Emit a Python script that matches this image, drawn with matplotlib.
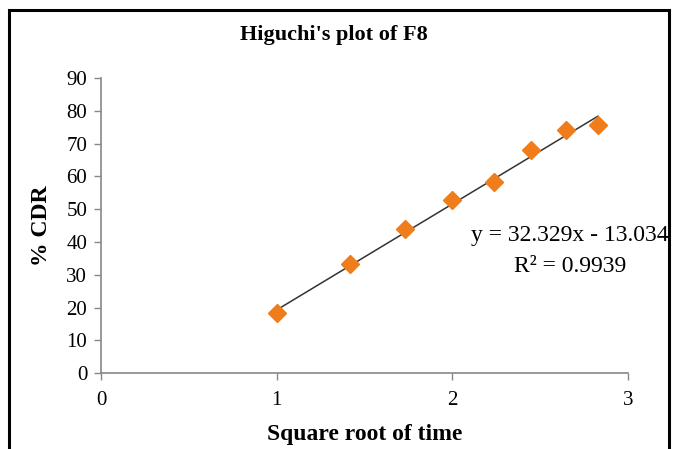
import numpy as np
import matplotlib
matplotlib.use("Agg")
import matplotlib.pyplot as plt
from matplotlib.patches import Rectangle

# Data
sqrt_time = [1.0, 1.414, 1.732, 2.0, 2.236, 2.449, 2.646, 2.828]
cdr = [18.2, 33.3, 44.0, 52.8, 58.3, 68.0, 74.2, 75.6]
slope = 32.329
intercept = -13.034
r2 = 0.9939
title = "Higuchi's plot of F8"
xlabel = "Square root of time"
ylabel = "% CDR"
xticks = [0, 1, 2, 3]
yticks = [0, 10, 20, 30, 40, 50, 60, 70, 80, 90]

plt.rcParams['font.family'] = ['Liberation Serif', 'DejaVu Serif']

fig = plt.figure(figsize=(6.74, 4.49), dpi=100)
ax = fig.add_axes([0.150, 0.169, 0.782, 0.657])

xs = np.array([min(sqrt_time), max(sqrt_time)])
ax.plot(xs, slope * xs + intercept, color='#333333', lw=1.1, zorder=2)
ax.plot(sqrt_time, cdr, linestyle='none', marker='D', markersize=9.5,
        color='#F07D1A', markeredgecolor='#F07D1A', zorder=3)

ax.set_xlim(0, 3)
ax.set_ylim(0, 90)
ax.set_xticks(xticks)
ax.set_yticks(yticks)
ax.tick_params(axis='both', labelsize=15, color='#888888', length=5, width=1)
ax.tick_params(axis='x', pad=8)
ax.tick_params(axis='y', pad=5)
for s in ['top', 'right']:
    ax.spines[s].set_visible(False)
for s in ['left', 'bottom']:
    ax.spines[s].set_color('#888888')
    ax.spines[s].set_linewidth(1.2)

ax.set_xlabel(xlabel, fontsize=17, fontweight='bold', labelpad=10)
ax.set_ylabel(ylabel, fontsize=17, fontweight='bold', labelpad=10)
fig.text(0.495, 0.922, title, ha='center', va='center', fontsize=16, fontweight='bold')

sign = '-' if intercept < 0 else '+'
ax.text(2.67, 42, f"y = {slope:.3f}x {sign} {abs(intercept):.3f}",
        ha='center', va='center', fontsize=17, clip_on=False)
ax.text(2.67, 32.5, f"R² = {r2:.4f}", ha='center', va='center', fontsize=17, clip_on=False)

# outer frame
fig.patches.append(Rectangle((0.013, -0.05), 0.979, 1.028, transform=fig.transFigure,
                             fill=False, edgecolor='black', lw=2.2))

fig.savefig("out.png", dpi=100)
